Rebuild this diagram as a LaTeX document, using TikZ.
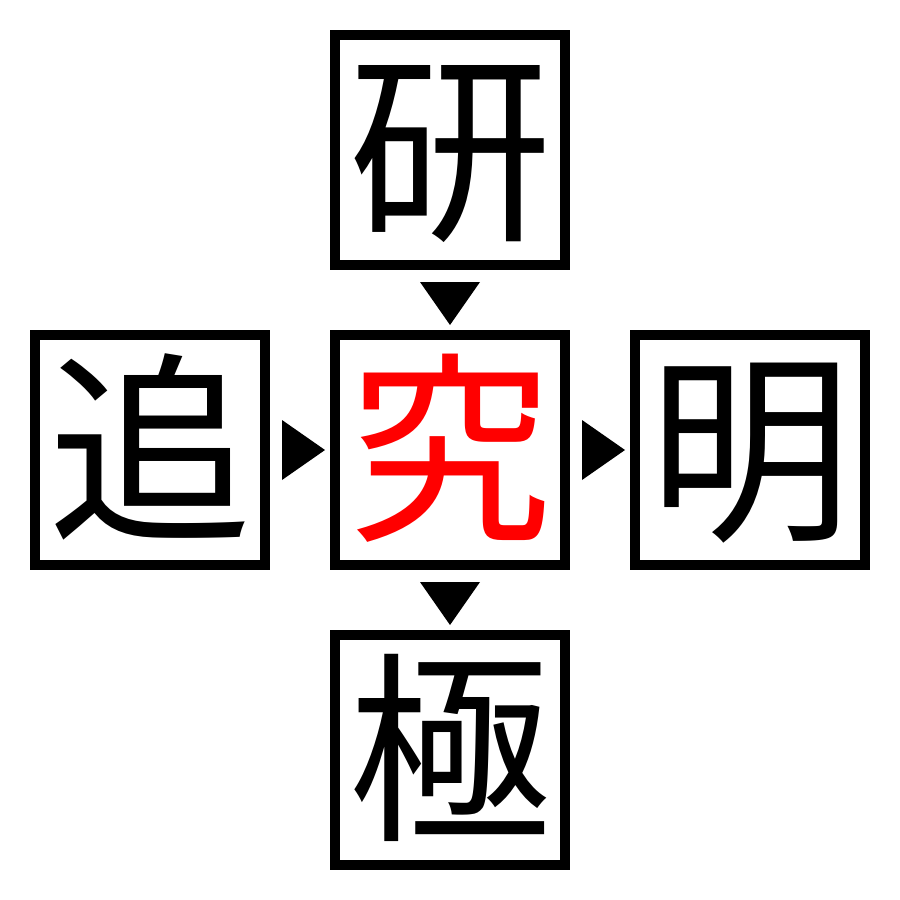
\documentclass[tikz,border=0pt]{standalone}
\usepackage{fontspec}
\newfontfamily\cjk{Noto Sans CJK JP}
\begin{document}
\begin{tikzpicture}[x=0.1mm,y=-0.1mm,
  charbox/.style={draw=black,line width=1mm,minimum size=23mm,inner sep=0pt,
    font=\cjk\fontsize{58}{58}\selectfont,text height=50pt,text depth=7pt},
  tri/.style={fill=black,draw=none}]
\useasboundingbox (0,0) rectangle (900,900);
\node[charbox] (top) at (450,150) {研};
\node[charbox] (left) at (150,450) {追};
\node[charbox,text=red] (mid) at (450,450) {究};
\node[charbox] (right) at (750,450) {明};
\node[charbox] (bot) at (450,750) {極};
\fill[tri] (420,282) -- (480,282) -- (450,325) -- cycle;
\fill[tri] (420,582) -- (480,582) -- (450,625) -- cycle;
\fill[tri] (282,420) -- (282,480) -- (325,450) -- cycle;
\fill[tri] (582,420) -- (582,480) -- (625,450) -- cycle;
\end{tikzpicture}
\end{document}
